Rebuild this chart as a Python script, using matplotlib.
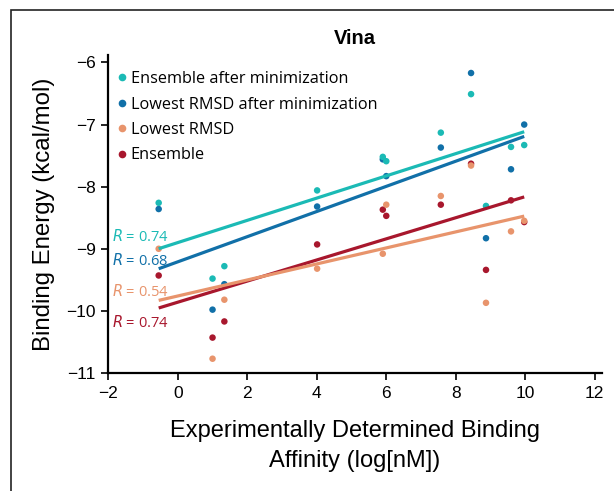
import numpy as np
import matplotlib
matplotlib.use("Agg")
import matplotlib.pyplot as plt
from matplotlib.lines import Line2D
from matplotlib.patches import Rectangle

# ---- data ----
affinity = [-0.55, 1.0, 1.34, 4.01, 5.9, 6.0, 7.57, 8.44, 8.87, 9.59, 9.97]
ens_min = [-8.26, -9.48, -9.28, -8.06, -7.52, -7.59, -7.13, -6.51, -8.31, -7.36, -7.33]
low_min = [-8.36, -9.98, -9.57, -8.32, -7.56, -7.83, -7.37, -6.17, -8.83, -7.72, -7.00]
low_rmsd = [-9.00, -10.77, -9.82, -9.32, -9.08, -8.29, -8.15, -7.66, -9.87, -8.72, -8.55]
ensemble = [-9.43, -10.43, -10.17, -8.93, -8.37, -8.47, -8.29, -7.63, -9.34, -8.22, -8.57]

series_names = ["Ensemble after minimization", "Lowest RMSD after minimization",
                "Lowest RMSD", "Ensemble"]
series_vals = [ens_min, low_min, low_rmsd, ensemble]
colors = ["#1bbab5", "#1170a8", "#e8946c", "#a8172d"]
r_labels = ["0.74", "0.68", "0.54", "0.74"]
r_label_y = [-8.81, -9.19, -9.69, -10.19]
# fitted regression lines (slope, intercept)
fit_slope = [0.179, 0.2025, 0.129, 0.170]
fit_intercept = [-8.90, -9.21, -9.76, -9.86]

x_ticks = [-2, 0, 2, 4, 6, 8, 10, 12]
y_ticks = [-11, -10, -9, -8, -7, -6]

W, H = 614, 491
fig = plt.figure(figsize=(W / 100, H / 100), dpi=100)
ax = fig.add_axes([108.3 / W, 1 - 373 / H, (601.7 - 108.3) / W, (373 - 55) / H])

# figure frame
fig.patches.append(Rectangle((11 / W, -0.1), 1.2, 1 - 9.5 / H + 0.1, transform=fig.transFigure,
                             fill=False, edgecolor="#222222", linewidth=1.2, clip_on=False))

xa = np.array(affinity)
xline = np.array([xa.min(), xa.max()])
for vals, c in zip(series_vals[::-1], colors[::-1]):
    ax.scatter(affinity, vals, s=22, color=c, edgecolors="none", zorder=3)
for sl, ic, c in zip(fit_slope[::-1], fit_intercept[::-1], colors[::-1]):
    ax.plot(xline, sl * xline + ic, color=c, lw=2.3, solid_capstyle="butt", zorder=4)

for lab, yy, c in zip(r_labels, r_label_y, colors):
    ax.text(-1.9, yy, "$R$ = " + lab, color=c, fontsize=10.5, family="Open Sans",
            va="center", ha="left")

ax.set_xlim(-2, 12.2)
ax.set_ylim(-11, -5.88)
ax.set_xticks(x_ticks)
ax.set_yticks(y_ticks)
ax.set_xticklabels([f"{t}".replace("-", "\u2212") for t in x_ticks])
ax.set_yticklabels([f"{t}".replace("-", "\u2212") for t in y_ticks])
for s in ["top", "right"]:
    ax.spines[s].set_visible(False)
for s in ["left", "bottom"]:
    ax.spines[s].set_linewidth(1.6)
ax.tick_params(direction="out", length=5, width=1.2, labelsize=12.5, pad=4)
for lbl in ax.get_xticklabels() + ax.get_yticklabels():
    lbl.set_family("Liberation Sans")

ax.set_xlabel("Experimentally Determined Binding\nAffinity (log[nM])", fontsize=17,
              family="Liberation Sans", labelpad=14, linespacing=1.45)
ax.set_ylabel("Binding Energy (kcal/mol)", fontsize=17.3,
              family="Liberation Sans", labelpad=8)
ax.set_title("Vina", fontsize=14.5, fontweight="bold", family="Liberation Sans", pad=8)

handles = [Line2D([], [], marker="o", ls="none", color=c, markersize=5.5, markeredgewidth=0)
           for c in colors]
leg = ax.legend(handles, series_names, loc="upper left", bbox_to_anchor=(-0.014, 0.985),
                frameon=False, prop={"family": "Open Sans", "size": 11.7},
                handletextpad=0.0, handlelength=1.1, labelspacing=0.58, borderaxespad=0.3)

fig.savefig("out.png", dpi=100)
